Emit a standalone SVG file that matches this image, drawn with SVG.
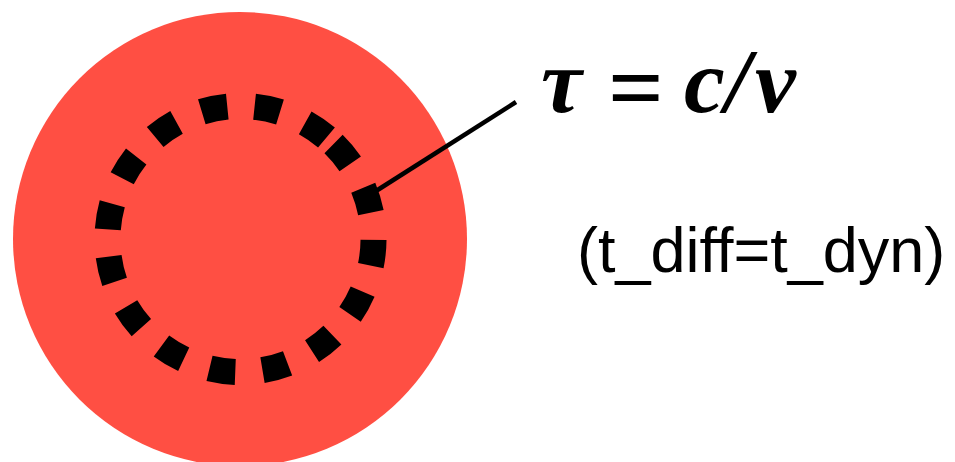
<svg xmlns="http://www.w3.org/2000/svg" width="955" height="462" viewBox="0 0 955 462">
<style>
.eq{font-family:"Liberation Serif","Times New Roman",serif;font-weight:bold;font-style:italic;font-size:92px;fill:#000}
.up{font-style:normal;font-size:98px}
.note{font-family:"Liberation Sans",Arial,sans-serif;font-size:63px;fill:#000}
</style>
<g id="outer-circle">
<circle cx="240" cy="239" r="227" fill="#FF4F43"/>
</g>
<g id="inner-circle">
<path d="M333.56,143.97 A133,133 0 1 1 147.44,334.03 A133,133 0 1 1 333.56,143.97" fill="none" stroke="#000" stroke-width="26" stroke-dasharray="26 27.3"/>
</g>
<g id="connectors">
<line x1="376" y1="191" x2="516" y2="102" stroke="#000" stroke-width="4.5"/>
</g>
<g id="label-eq">
<text class="eq" y="112"><tspan x="541">τ</tspan><tspan class="up" x="608" dy="8">=</tspan><tspan x="684" dy="-8">c</tspan><tspan x="725">/</tspan><tspan x="755">v</tspan></text>
</g>
<g id="label-note">
<text class="note" x="577" y="272">(t_diff=t_dyn)</text>
</g>
</svg>
